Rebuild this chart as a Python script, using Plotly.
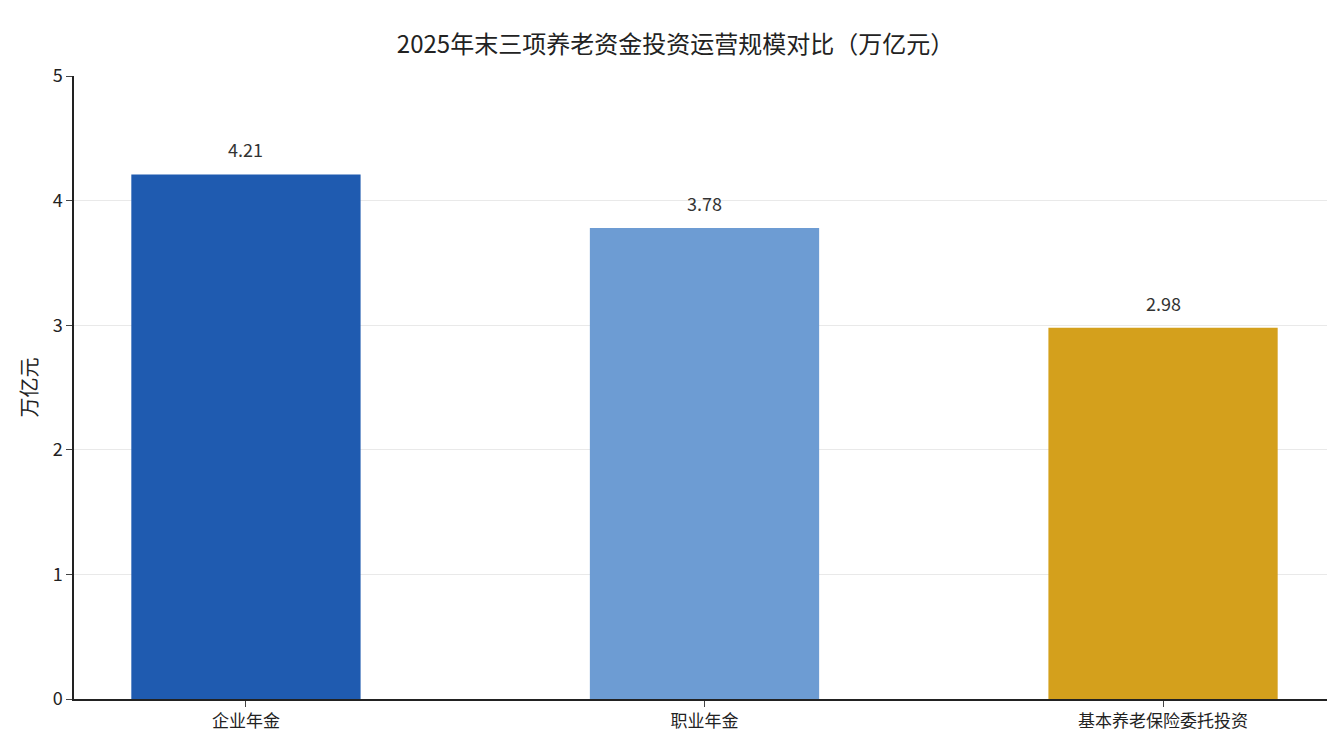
import plotly.graph_objects as go

categories = ["企业年金", "职业年金", "基本养老保险委托投资"]
values = [4.21, 3.78, 2.98]
colors = ["#1f5bb0", "#6d9cd3", "#d4a01c"]

fig = go.Figure(
    go.Bar(
        x=categories,
        y=values,
        width=0.5,
        marker={"color": colors, "line": {"width": 0}},
        hovertemplate="%{x}: %{y:.2f}<extra></extra>",
    )
)

# value labels a bit above each bar
for cat, v in zip(categories, values):
    fig.add_annotation(x=cat, y=v, text=f"{v:.2f}", showarrow=False,
                       yanchor="bottom", yshift=10,
                       font={"size": 18, "color": "#333333"})

fig.update_layout(
    width=1335,
    height=735,
    font={"family": "Noto Sans CJK SC", "size": 17, "color": "#222222"},
    title={"text": "2025年末三项养老资金投资运营规模对比（万亿元）", "x": 0.5, "y": 0.962,
           "xanchor": "center", "font": {"size": 24}},
    plot_bgcolor="white",
    paper_bgcolor="white",
    margin={"l": 66, "r": 8, "t": 68, "b": 44},
    showlegend=False,
)
fig.update_yaxes(
    range=[0, 5], dtick=1, title_text="万亿元", title_standoff=10,
    showline=True, linecolor="#222222", linewidth=1.5,
    ticks="outside", ticklen=6, gridcolor="rgba(215,215,215,0.55)",
    layer="above traces", zeroline=False, tickfont={"size": 18},
)
fig.update_xaxes(
    showline=True, linecolor="#222222", linewidth=1.5,
    ticks="outside", ticklen=6, range=[-0.375, 2.375],
)

fig.write_html("out.html")
